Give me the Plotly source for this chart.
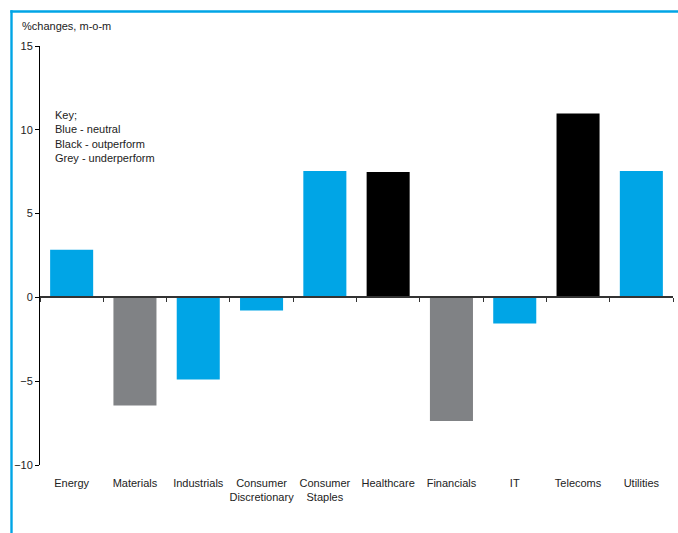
import plotly.graph_objects as go

# Sector month-on-month changes (%)
sectors = ["Energy", "Materials", "Industrials", "Consumer<br>Discretionary",
           "Consumer<br>Staples", "Healthcare", "Financials", "IT", "Telecoms", "Utilities"]
changes = [2.85, -6.45, -4.9, -0.78, 7.54, 7.48, -7.38, -1.55, 10.98, 7.54]
ratings = ["neutral", "underperform", "neutral", "neutral", "neutral",
           "outperform", "underperform", "neutral", "outperform", "neutral"]

rating_colors = {"neutral": "#00A5E6", "outperform": "#000000", "underperform": "#808285"}
bar_colors = [rating_colors[r] for r in ratings]

FONT = "Liberation Sans, Arial, sans-serif"
FRAME = "#00A5E6"

fig = go.Figure()
fig.add_trace(go.Bar(x=sectors, y=changes, marker=dict(color=bar_colors, line=dict(width=0)),
                     hoverinfo="x+y", showlegend=False))
# companion trace on the zero-line axis so its ticks render
fig.add_trace(go.Scatter(x=sectors, y=changes, mode="markers", marker=dict(opacity=0),
                         xaxis="x2", hoverinfo="skip", showlegend=False))

fig.update_layout(
    width=678, height=533,
    margin=dict(l=40, r=5, t=46, b=68),
    paper_bgcolor="white", plot_bgcolor="white",
    bargap=0.32,
    font=dict(family=FONT, size=11, color="#222222"),
    xaxis=dict(type="category", categoryarray=sectors, range=[-0.5, 9.5],
               showline=False, ticks="", showgrid=False, zeroline=False,
               tickfont=dict(size=11, color="#222222"), ticklabelstandoff=10),
    xaxis2=dict(type="category", categoryarray=sectors, range=[-0.5, 9.5],
                overlaying="x", anchor="free", position=0.4,
                showline=True, linecolor="#333333", linewidth=1.5,
                ticks="outside", ticklen=4, tickcolor="#333333", tickwidth=1,
                tickson="boundaries", showticklabels=False, showgrid=False, zeroline=False),
    yaxis=dict(range=[-10, 15], dtick=5, showline=True, linecolor="#000000", linewidth=1,
               ticks="outside", ticklen=4, tickcolor="#000000", showgrid=False,
               zeroline=False, tickfont=dict(size=11, color="#222222")),
)

# Frame along the left and top edges of the page (pixel positions -> paper units),
# drawn as thin filled strips
def px_x(p):
    return (p - 40) / 633.0

def px_y(p):
    return (465 - p) / 419.0

fig.add_shape(type="rect", xref="paper", yref="paper",
              x0=px_x(10.3), x1=px_x(678), y0=px_y(12.7), y1=px_y(10.3),
              line=dict(width=0), fillcolor=FRAME)
fig.add_shape(type="rect", xref="paper", yref="paper",
              x0=px_x(10.3), x1=px_x(12.7), y0=px_y(533), y1=px_y(10.3),
              line=dict(width=0), fillcolor=FRAME)

# Axis unit label
fig.add_annotation(text="%changes, m-o-m", xref="paper", yref="paper",
                   x=-0.0315, y=1.047, xanchor="left", yanchor="middle", showarrow=False,
                   font=dict(size=11, color="#222222"))

# Colour key
fig.add_annotation(text="Key;<br>Blue - neutral<br>Black - outperform<br>Grey - underperform",
                   xref="paper", yref="paper", x=0.0205, y=0.855, xanchor="left", yanchor="top",
                   align="left", showarrow=False, font=dict(size=11, color="#222222"))

fig.write_html("out.html")
